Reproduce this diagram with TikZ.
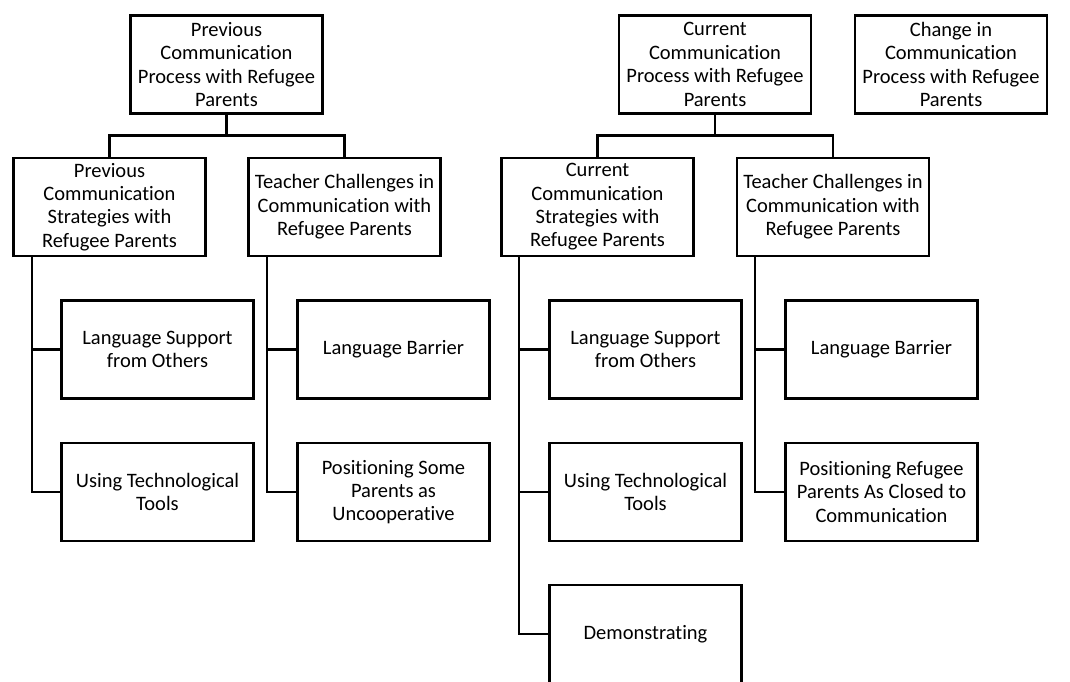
\documentclass[tikz,border=0pt]{standalone}
\usepackage{fontspec}
\setmainfont{Carlito}[Ligatures=NoCommon,Contextuals=NoAlternate]
\begin{document}
\begin{tikzpicture}[x=1pt,y=1pt,
  box/.style={draw, line width=2.8pt, minimum width=192pt, minimum height=98pt,
    inner sep=0pt, align=center, font=\fontsize{20.5}{23.4}\selectfont},
  link/.style={line width=2.8pt}]
\clip (0,0) rectangle (1070,-682);

% top level
\node[box] (prev) at (226.5,-64.5) {Previous\\Communication\\Process with Refugee\\Parents};
\node[box] (cur)  at (715,-64.5)   {Current\\Communication\\Process with Refugee\\Parents};
\node[box] (chg)  at (951,-64.5)   {Change in\\Communication\\Process with Refugee\\Parents};

% second level
\node[box] (ps)  at (109.5,-207) {Previous\\Communication\\Strategies with\\Refugee Parents};
\node[box] (tc1) at (344.5,-207) {Teacher Challenges in\\Communication with\\Refugee Parents};
\node[box] (cs)  at (597.5,-207) {Current\\Communication\\Strategies with\\Refugee Parents};
\node[box] (tc2) at (833,-207)   {Teacher Challenges in\\Communication with\\Refugee Parents};

% third level
\node[box] (ps1) at (157.5,-349.5) {Language Support\\from Others};
\node[box] (ps2) at (157.5,-492)   {Using Technological\\Tools};
\node[box] (ta1) at (393.5,-349.5) {Language Barrier};
\node[box] (ta2) at (393.5,-492)   {Positioning Some\\Parents as\\Uncooperative};
\node[box] (cs1) at (645.5,-349.5) {Language Support\\from Others};
\node[box] (cs2) at (645.5,-492)   {Using Technological\\Tools};
\node[box] (cs3) at (645.5,-634)   {Demonstrating};
\node[box] (tb1) at (881.5,-349.5) {Language Barrier};
\node[box] (tb2) at (881.5,-492)   {Positioning Refugee\\Parents As Closed to\\Communication};

% tree connectors
\draw[link] (prev.south) -- ++(0,-21);
\draw[link] (ps.north) -- ++(0,21) -| (tc1.north);
\draw[link] (cur.south) -- ++(0,-21);
\draw[link] (cs.north) -- ++(0,21) -| (tc2.north);

\draw[link] ([xshift=-77.5pt]ps.south) |- (ps1.west);
\draw[link] ([xshift=-77.5pt]ps.south) |- (ps2.west);
\draw[link] ([xshift=-77.5pt]tc1.south) |- (ta1.west);
\draw[link] ([xshift=-77.5pt]tc1.south) |- (ta2.west);
\draw[link] ([xshift=-78.5pt]cs.south) |- (cs1.west);
\draw[link] ([xshift=-78.5pt]cs.south) |- (cs2.west);
\draw[link] ([xshift=-78.5pt]cs.south) |- (cs3.west);
\draw[link] ([xshift=-78pt]tc2.south) |- (tb1.west);
\draw[link] ([xshift=-78pt]tc2.south) |- (tb2.west);
\end{tikzpicture}
\end{document}
